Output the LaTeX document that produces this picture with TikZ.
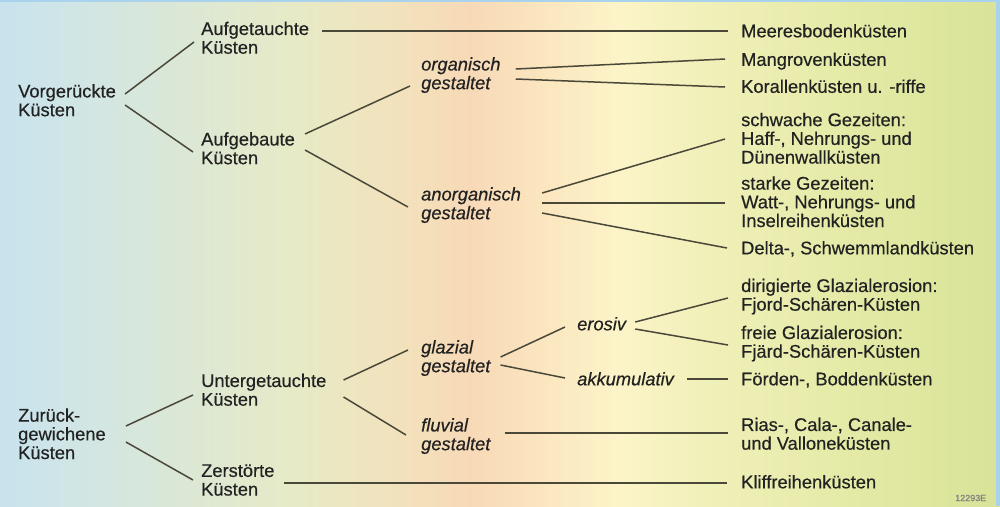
\documentclass[tikz,border=0pt]{standalone}
\usepackage{fontspec}
\setmainfont{Liberation Sans}[FakeBold=0.4]

\definecolor{inkgray}{HTML}{222222}
\definecolor{linegray}{HTML}{4A4839}
\definecolor{framesky}{HTML}{A9D2EC}
\definecolor{bgA}{HTML}{C8E3EE}
\definecolor{bgB}{HTML}{D3E6E2}
\definecolor{bgC}{HTML}{DDE8D3}
\definecolor{bgD}{HTML}{E7EAC5}
\definecolor{bgE}{HTML}{F2E2BC}
\definecolor{bgF}{HTML}{F8D9B7}
\definecolor{bgG}{HTML}{FBE7C0}
\definecolor{bgH}{HTML}{FCF4C8}
\definecolor{bgI}{HTML}{F1F0BA}
\definecolor{bgJ}{HTML}{E4EAA6}
\definecolor{bgK}{HTML}{D9E398}

\pgfdeclarehorizontalshading{coastbg}{100bp}{color(0bp)=(bgA); color(25bp)=(bgA);
  color(30bp)=(bgB); color(35bp)=(bgC); color(40bp)=(bgD); color(45bp)=(bgE);
  color(48.5bp)=(bgF); color(52.5bp)=(bgG); color(56bp)=(bgH); color(60bp)=(bgI);
  color(67.5bp)=(bgJ); color(75bp)=(bgK); color(100bp)=(bgK)}

\newcommand{\coastfont}{\fontsize{18.3}{18.7}\selectfont\lineskiplimit=-10pt\relax}

\begin{document}
\begin{tikzpicture}[x=1pt,y=-1pt,
coast/.style={anchor=west,inner sep=0pt,align=left,font=\coastfont,text=inkgray},
kind/.style={coast,font=\coastfont\itshape},
branch/.style={draw=linegray,line width=1.5pt}]

% background
\fill[shading=coastbg] (0,0) rectangle (1000,506);
\fill[framesky] (0,0) rectangle (1000,2);
\fill[framesky] (996,0) rectangle (1000,506);

% left column
\draw (18,103) node[coast] (vk) {\strut Vorgerückte\\Küsten\strut};
\draw (18,436.5) node[coast] (zg) {\strut Zurück-\\gewichene\\Küsten\strut};

\draw (201,40.5) node[coast] (at) {\strut Aufgetauchte\\Küsten\strut};
\draw (201,151) node[coast] (ab) {\strut Aufgebaute\\Küsten\strut};
\draw (201,392.5) node[coast] (ut) {\strut Untergetauchte\\Küsten\strut};
\draw (201,482.5) node[coast] (zs) {\strut Zerstörte\\Küsten\strut};

% middle
\draw (421,76) node[kind] (og) {\strut organisch\\gestaltet\strut};
\draw (421,206) node[kind] (ag) {\strut anorganisch\\gestaltet\strut};
\draw (421,359) node[kind] (gl) {\strut glazial\\gestaltet\strut};
\draw (421,437) node[kind] (fl) {\strut fluvial\\gestaltet\strut};
\draw (577,326.5) node[kind] (er) {\strut erosiv};
\draw (577,381.5) node[kind] (ak) {\strut akkumulativ};

% right column
\draw (741,33.5) node[coast] (mb) {\strut Meeresbodenküsten};
\draw (741,62) node[coast] (mg) {\strut Mangrovenküsten};
\draw (741,89) node[coast] (kr) {\strut Korallenküsten u. -riffe};
\draw (741,141) node[coast] (sg) {\strut schwache Gezeiten:\\Haff-, Nehrungs- und\\Dünenwallküsten\strut};
\draw (741,204.5) node[coast] (stg) {\strut starke Gezeiten:\\Watt-, Nehrungs- und\\Inselreihenküsten\strut};
\draw (741,250.5) node[coast] (dl) {\strut Delta-, Schwemmlandküsten};
\draw (741,297.5) node[coast] (dg) {\strut dirigierte Glazialerosion:\\Fjord-Schären-Küsten\strut};
\draw (741,344.5) node[coast] (fg) {\strut freie Glazialerosion:\\Fjärd-Schären-Küsten\strut};
\draw (741,381.5) node[coast] (fd) {\strut Förden-, Boddenküsten};
\draw (741,436.5) node[coast] (rc) {\strut Rias-, Cala-, Canale-\\und Valloneküsten\strut};
\draw (741,484.5) node[coast] (kf) {\strut Kliffreihenküsten};

\draw (955,498) node[coast,font=\fontsize{9}{10}\selectfont,text=gray] (id) {12293E};

% branches
\draw[branch] ([xshift=9pt,yshift=9pt]vk.east) -- ([xshift=-7pt,yshift=-1.5pt]at.west);
\draw[branch] ([xshift=9pt,yshift=-2pt]vk.east) -- ([xshift=-8pt,yshift=-1pt]ab.west);
\draw[branch] ([xshift=13pt,yshift=9.5pt]at.east) -- ([xshift=-13pt,yshift=2.5pt]mb.west);
\draw[branch] ([xshift=10pt,yshift=17pt]ab.east) -- ([xshift=-11pt,yshift=-10pt]og.west);
\draw[branch] ([xshift=10pt,yshift=1pt]ab.east) -- ([xshift=-13pt,yshift=-1pt]ag.west);
\draw[branch] ([xshift=15pt,yshift=7pt]og.east) -- ([xshift=-16pt,yshift=3pt]mg.west);
\draw[branch] ([xshift=15pt,yshift=-3pt]og.east) -- ([xshift=-16pt,yshift=2pt]kr.west);
\draw[branch] ([xshift=21pt,yshift=13pt]ag.east) -- ([xshift=-16pt,yshift=2pt]sg.west);
\draw[branch] ([xshift=21pt,yshift=3pt]ag.east) -- ([xshift=-16pt,yshift=1.5pt]stg.west);
\draw[branch] ([xshift=21pt,yshift=-7pt]ag.east) -- ([xshift=-14pt,yshift=2.5pt]dl.west);

\draw[branch] ([xshift=20pt,yshift=10.5pt]zg.east) -- ([xshift=-8pt,yshift=-2.5pt]ut.west);
\draw[branch] ([xshift=20pt,yshift=-5.5pt]zg.east) -- ([xshift=-8pt,yshift=2.5pt]zs.west);
\draw[branch] ([xshift=17pt,yshift=12.5pt]ut.east) -- ([xshift=-13pt,yshift=9pt]gl.west);
\draw[branch] ([xshift=17pt,yshift=-4.5pt]ut.east) -- ([xshift=-15pt,yshift=2pt]fl.west);
\draw[branch] ([xshift=9pt,yshift=-0.5pt]zs.east) -- ([xshift=-14pt,yshift=1.5pt]kf.west);
\draw[branch] ([xshift=10pt,yshift=2pt]gl.east) -- ([xshift=-12pt,yshift=-0.5pt]er.west);
\draw[branch] ([xshift=10pt,yshift=-6pt]gl.east) -- ([xshift=-12pt,yshift=3.5pt]ak.west);
\draw[branch] ([xshift=9pt,yshift=4.5pt]er.east) -- ([xshift=-13pt,yshift=-0.5pt]dg.west);
\draw[branch] ([xshift=9pt,yshift=-2.5pt]er.east) -- ([xshift=-13pt,yshift=-0.5pt]fg.west);
\draw[branch] ([xshift=13pt,yshift=2.5pt]ak.east) -- ([xshift=-13pt,yshift=2.5pt]fd.west);
\draw[branch] ([xshift=14pt,yshift=4pt]fl.east) -- ([xshift=-13pt,yshift=3.5pt]rc.west);

\end{tikzpicture}
\end{document}
